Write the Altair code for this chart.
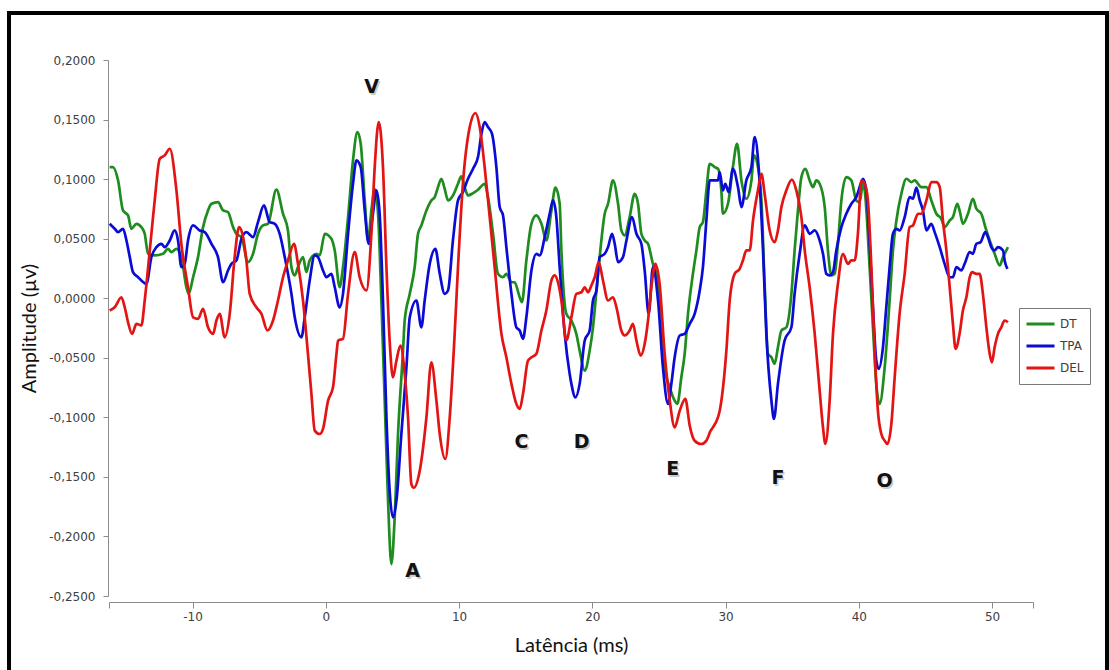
import altair as alt
import pandas as pd

series_names = ["DT", "TPA", "DEL"]
series_colors = ["#1e8c1e", "#0b0bd6", "#e31414"]

dt_lat = [-16.22, -15.97, -15.59, -15.22, -14.84, -14.59, -14.21, -13.84, -13.59, -13.34, -12.84, -12.22,
          -11.84, -11.59, -11.21, -10.84, -10.46, -10.29, -9.96, -9.59, -9.21, -8.84, -8.58, -8.09, -7.71,
          -7.34, -6.96, -6.71, -6.33, -5.84, -5.46, -5.09, -4.71, -4.34, -3.71, -3.21, -2.84, -2.58, -2.33,
          -2.09, -1.71, -1.46, -1.21, -0.71, -0.46, -0.08, 0.42, 0.67, 1.04, 1.29, 1.67, 2.04, 2.37, 2.62,
          2.92, 3.17, 3.42, 3.67, 3.92, 4.17, 4.42, 4.67, 4.92, 5.17, 5.42, 5.79, 5.92, 6.30, 6.67, 6.92,
          7.17, 7.55, 7.92, 8.17, 8.42, 8.67, 8.92, 9.17, 9.54, 9.92, 10.17, 10.42, 10.67, 11.05, 11.42,
          11.92, 12.17, 12.55, 12.92, 13.30, 13.55, 13.93, 14.17, 14.55, 14.72, 15.05, 15.43, 15.80, 16.18,
          16.55, 16.93, 17.23, 17.55, 17.68, 18.05, 18.43, 18.80, 19.05, 19.43, 19.80, 20.05, 20.31, 20.55,
          20.93, 21.18, 21.55, 21.93, 22.18, 22.43, 22.80, 23.18, 23.43, 23.68, 23.93, 24.18, 24.55, 24.81,
          25.18, 25.43, 25.81, 26.18, 26.38, 26.68, 26.93, 27.18, 27.55, 27.81, 28.06, 28.30, 28.56, 28.81,
          29.18, 29.43, 29.68, 29.80, 30.18, 30.55, 30.86, 31.19, 31.56, 31.94, 32.13, 32.43, 32.69, 32.93,
          33.18, 33.44, 33.68, 33.93, 34.19, 34.56, 34.94, 35.18, 35.43, 35.69, 35.99, 36.31, 36.56, 36.81,
          37.06, 37.44, 37.68, 37.94, 38.19, 38.43, 38.69, 39.06, 39.44, 39.81, 40.06, 40.31, 40.44, 40.81,
          41.06, 41.31, 41.56, 41.94, 42.31, 42.56, 42.82, 43.19, 43.57, 43.94, 44.19, 44.69, 45.07, 45.44,
          45.82, 46.19, 46.44, 46.82, 47.06, 47.39, 47.56, 47.81, 48.19, 48.56, 48.82, 49.19, 49.57, 49.82,
          50.19, 50.57, 50.82, 51.07, 51.19]
dt_amp = [0.1101, 0.1101, 0.0989, 0.0737, 0.0695, 0.0583, 0.0625, 0.0597, 0.0541, 0.0373, 0.0359, 0.0373,
          0.0415, 0.0387, 0.0415, 0.0345, 0.0092, 0.0037, 0.0176, 0.0345, 0.0597, 0.0737, 0.0793, 0.0807, 0.0737,
          0.0723, 0.0597, 0.0541, 0.0513, 0.0303, 0.0373, 0.0541, 0.0611, 0.0625, 0.0911, 0.0709, 0.0569, 0.0261, 0.0191,
          0.0261, 0.0345, 0.0219, 0.0317, 0.0373, 0.0359, 0.0541, 0.0499, 0.0401, 0.0092, 0.0261, 0.0681, 0.1157, 0.1395, 0.1297,
          0.0821, 0.0485, 0.0737, 0.0919, 0.0709, -0.0019, -0.0860, -0.1700, -0.2232, -0.1840, -0.1140, -0.0450, -0.0187, 0.0037, 0.0261, 0.0541,
          0.0611, 0.0737, 0.0821, 0.0849, 0.0933, 0.1003, 0.0919, 0.0821, 0.0863, 0.0961, 0.1023, 0.0933, 0.0863, 0.0882, 0.0911,
          0.0961, 0.0849, 0.0541, 0.0205, 0.0176, 0.0205, 0.0134, 0.0134, 0.0008, -0.0034, 0.0317, 0.0625, 0.0695, 0.0625,
          0.0485, 0.0737, 0.0928, 0.0793, 0.0401, -0.0131, -0.0187, -0.0299, -0.0440, -0.0608, -0.0440, -0.0244, 0.0065, 0.0345,
          0.0709, 0.0793, 0.0989, 0.0793, 0.0569, 0.0527, 0.0681, 0.0877, 0.0793, 0.0541, 0.0485, 0.0457, 0.0289, 0.0205,
          -0.0131, -0.0580, -0.0748, -0.0860, -0.0887, -0.0664, -0.0467, -0.0131, 0.0205, 0.0401, 0.0597, 0.0639, 0.0905, 0.1129,
          0.1101, 0.1087, 0.0905, 0.0709, 0.0793, 0.1101, 0.1297, 0.0989, 0.0835, 0.0989, 0.1199, 0.1101, 0.0821, 0.0121,
          -0.0467, -0.0496, -0.0551, -0.0412, -0.0271, -0.0244, 0.0037, 0.0401, 0.0737, 0.1017, 0.1087, 0.0989, 0.0933, 0.0989,
          0.0961, 0.0765, 0.0401, 0.0191, 0.0205, 0.0457, 0.0821, 0.1017, 0.0989, 0.0821, 0.0807, 0.0961, 0.0905, 0.0261,
          -0.0244, -0.0719, -0.0887, -0.0580, -0.0019, 0.0401, 0.0653, 0.0877, 0.1003, 0.0975, 0.0989, 0.0933, 0.0933, 0.0821,
          0.0709, 0.0667, 0.0597, 0.0653, 0.0681, 0.0793, 0.0737, 0.0625, 0.0709, 0.0835, 0.0751, 0.0709, 0.0569, 0.0485,
          0.0373, 0.0275, 0.0345, 0.0401, 0.0429]

tpa_lat = [-16.22, -15.84, -15.59, -15.22, -14.96, -14.71, -14.47, -14.09, -13.84, -13.46, -13.09, -12.71,
           -12.34, -12.09, -11.71, -11.34, -11.09, -10.84, -10.59, -10.34, -9.96, -9.46, -9.09, -8.58, -8.09,
           -7.71, -7.34, -7.08, -6.71, -6.33, -5.96, -5.46, -5.09, -4.64, -4.21, -3.83, -3.46, -3.08, -2.58,
           -2.33, -1.83, -1.58, -1.21, -0.83, -0.59, -0.21, 0.05, 0.42, 0.67, 1.04, 1.29, 1.67, 2.04, 2.30,
           2.62, 2.92, 3.22, 3.54, 3.80, 4.04, 4.29, 4.55, 4.79, 5.04, 5.30, 5.67, 6.05, 6.30, 6.80, 7.17,
           7.42, 7.80, 8.22, 8.55, 8.92, 9.17, 9.54, 9.92, 10.29, 10.67, 11.05, 11.42, 11.68, 11.92, 12.17,
           12.47, 12.80, 13.05, 13.30, 13.55, 13.93, 14.30, 14.55, 14.80, 15.05, 15.43, 15.80, 16.05, 16.43,
           16.80, 17.05, 17.30, 17.55, 17.93, 18.30, 18.43, 18.73, 19.05, 19.43, 19.80, 20.05, 20.31, 20.55,
           20.93, 21.18, 21.48, 21.68, 21.93, 22.30, 22.56, 22.98, 23.31, 23.68, 23.93, 24.23, 24.55, 24.93,
           25.30, 25.68, 25.93, 26.18, 26.56, 26.93, 27.31, 27.68, 28.06, 28.30, 28.56, 28.81, 29.18, 29.43,
           29.56, 29.80, 29.98, 30.23, 30.55, 30.93, 31.19, 31.56, 31.94, 32.18, 32.48, 32.81, 33.06, 33.44,
           33.63, 33.93, 34.43, 34.94, 35.18, 35.56, 35.94, 36.31, 36.69, 37.06, 37.31, 37.56, 37.81, 38.06,
           38.31, 38.69, 39.06, 39.44, 39.81, 40.19, 40.31, 40.56, 40.81, 41.06, 41.31, 41.49, 41.81, 42.06,
           42.31, 42.56, 42.82, 43.06, 43.44, 43.81, 44.06, 44.32, 44.57, 44.81, 45.07, 45.44, 45.69, 46.07,
           46.44, 46.82, 47.06, 47.32, 47.69, 47.94, 48.32, 48.56, 48.82, 49.14, 49.49, 49.69, 49.94, 50.19,
           50.44, 50.82, 50.94, 51.15]
tpa_amp = [0.0625, 0.0583, 0.0555, 0.0583, 0.0485, 0.0345, 0.0219, 0.0176, 0.0149, 0.0121, 0.0345, 0.0429,
           0.0457, 0.0429, 0.0485, 0.0569, 0.0485, 0.0261, 0.0289, 0.0485, 0.0611, 0.0569, 0.0555, 0.0457, 0.0345,
           0.0134, 0.0233, 0.0289, 0.0317, 0.0499, 0.0555, 0.0513, 0.0639, 0.0779, 0.0639, 0.0625, 0.0541, 0.0345, 0.0037,
           -0.0160, -0.0328, -0.0160, 0.0149, 0.0359, 0.0345, 0.0233, 0.0176, 0.0205, 0.0092, -0.0076, 0.0037, 0.0541, 0.0961, 0.1157,
           0.1101, 0.0737, 0.0457, 0.0709, 0.0905, 0.0709, -0.0019, -0.1000, -0.1616, -0.1840, -0.1700, -0.1140, -0.0580, -0.0160, -0.0019, -0.0244,
           -0.0019, 0.0289, 0.0415, 0.0205, 0.0037, 0.0065, 0.0485, 0.0821, 0.0891, 0.1003, 0.1087, 0.1185, 0.1381, 0.1479, 0.1437,
           0.1381, 0.1101, 0.0765, 0.0695, 0.0429, 0.0037, -0.0244, -0.0271, -0.0341, -0.0160, 0.0233, 0.0373, 0.0359, 0.0513,
           0.0709, 0.0821, 0.0681, 0.0261, -0.0299, -0.0635, -0.0719, -0.0832, -0.0719, -0.0355, -0.0271, -0.0019, 0.0065, 0.0345,
           0.0373, 0.0429, 0.0541, 0.0457, 0.0303, 0.0345, 0.0485, 0.0681, 0.0541, 0.0457, 0.0233, -0.0131, 0.0261, -0.0019,
           -0.0580, -0.0887, -0.0719, -0.0496, -0.0313, -0.0299, -0.0215, -0.0131, 0.0065, 0.0261, 0.0653, 0.0989, 0.0989, 0.0989,
           0.1059, 0.0905, 0.0961, 0.0891, 0.1087, 0.0933, 0.0765, 0.0989, 0.1101, 0.1353, 0.1101, 0.0401, -0.0299, -0.0860,
           -0.1013, -0.0719, -0.0355, -0.0244, 0.0037, 0.0373, 0.0611, 0.0541, 0.0569, 0.0485, 0.0373, 0.0205, 0.0191, 0.0219,
           0.0401, 0.0597, 0.0709, 0.0793, 0.0849, 0.0975, 0.1003, 0.0905, 0.0457, -0.0076, -0.0524, -0.0593, -0.0412, -0.0076,
           0.0261, 0.0541, 0.0583, 0.0569, 0.0681, 0.0849, 0.0835, 0.0928, 0.0821, 0.0737, 0.0569, 0.0625, 0.0555, 0.0429,
           0.0289, 0.0176, 0.0176, 0.0261, 0.0233, 0.0289, 0.0387, 0.0373, 0.0457, 0.0471, 0.0555, 0.0513, 0.0429, 0.0401,
           0.0429, 0.0401, 0.0317, 0.0247]

del_lat = [-16.22, -15.84, -15.34, -15.09, -14.84, -14.54, -14.21, -13.84, -13.59, -13.21, -12.84, -12.46,
           -12.09, -11.71, -11.21, -10.84, -10.34, -9.96, -9.59, -9.21, -8.84, -8.46, -8.21, -7.96, -7.59,
           -7.21, -6.84, -6.51, -6.21, -5.96, -5.71, -5.21, -4.83, -4.38, -3.96, -3.59, -3.21, -2.84, -2.39,
           -2.09, -1.71, -1.34, -1.08, -0.83, -0.46, -0.21, 0.17, 0.54, 0.80, 0.92, 1.29, 1.67, 2.17, 2.54,
           3.05, 3.42, 3.67, 3.97, 4.29, 4.55, 4.79, 5.04, 5.30, 5.60, 5.92, 6.17, 6.42, 6.60, 7.05, 7.55,
           7.92, 8.30, 8.55, 8.97, 9.30, 9.67, 9.92, 10.29, 10.80, 11.23, 11.55, 11.92, 12.30, 12.67, 13.18,
           13.55, 13.93, 14.30, 14.55, 14.80, 15.17, 15.43, 15.80, 16.18, 16.55, 16.93, 17.18, 17.42, 17.68,
           18.05, 18.43, 18.80, 19.18, 19.43, 19.67, 19.93, 20.18, 20.48, 20.80, 21.18, 21.55, 21.81, 22.18,
           22.43, 22.80, 23.05, 23.31, 23.63, 23.93, 24.18, 24.43, 24.73, 25.05, 25.43, 25.81, 26.18, 26.56,
           26.98, 27.31, 27.68, 28.18, 28.56, 28.88, 29.05, 29.56, 30.06, 30.31, 30.68, 31.06, 31.30, 31.56,
           31.81, 32.06, 32.43, 32.69, 32.93, 33.31, 33.68, 33.93, 34.19, 34.56, 34.98, 35.31, 35.69, 35.94,
           36.31, 36.69, 37.06, 37.31, 37.49, 37.81, 38.06, 38.43, 38.81, 39.18, 39.44, 39.69, 39.93, 40.19,
           40.44, 40.68, 40.94, 41.19, 41.43, 41.69, 41.94, 42.14, 42.44, 42.69, 43.06, 43.44, 43.81, 44.06,
           44.44, 44.69, 45.07, 45.44, 45.82, 46.07, 46.31, 46.57, 46.82, 47.06, 47.26, 47.56, 47.81, 48.07,
           48.32, 48.49, 48.82, 49.07, 49.31, 49.57, 49.82, 49.99, 50.19, 50.44, 50.69, 50.94, 51.19]
del_amp = [-0.0103, -0.0076, 0.0008, -0.0076, -0.0202, -0.0299, -0.0215, -0.0229, -0.0019, 0.0401, 0.0821, 0.1171,
           0.1199, 0.1255, 0.0905, 0.0457, 0.0092, -0.0160, -0.0173, -0.0089, -0.0244, -0.0299, -0.0187, -0.0131, -0.0328,
           -0.0131, 0.0345, 0.0597, 0.0513, 0.0317, 0.0037, -0.0076, -0.0131, -0.0271, -0.0187, -0.0019, 0.0176, 0.0317, 0.0457,
           0.0289, -0.0019, -0.0467, -0.0803, -0.1112, -0.1140, -0.1097, -0.0860, -0.0748, -0.0467, -0.0355, -0.0341, 0.0037, 0.0387, 0.0176,
           0.0065, 0.0541, 0.1101, 0.1479, 0.1101, 0.0261, -0.0355, -0.0664, -0.0524, -0.0398, -0.0635, -0.1000, -0.1560, -0.1591, -0.1448, -0.1000,
           -0.0538, -0.0860, -0.1140, -0.1350, -0.1000, -0.0299, 0.0261, 0.0961, 0.1437, 0.1555, 0.1437, 0.1101, 0.0681, 0.0261, -0.0299,
           -0.0496, -0.0719, -0.0887, -0.0929, -0.0803, -0.0524, -0.0496, -0.0467, -0.0271, -0.0103, 0.0149, 0.0191, 0.0134, -0.0019,
           -0.0355, -0.0160, 0.0037, 0.0050, 0.0092, 0.0050, 0.0107, 0.0176, 0.0303, 0.0149, -0.0019, 0.0008, -0.0076, -0.0271,
           -0.0313, -0.0271, -0.0215, -0.0355, -0.0482, -0.0383, -0.0187, 0.0092, 0.0289, 0.0121, -0.0467, -0.0860, -0.1084, -0.0944,
           -0.0845, -0.1070, -0.1196, -0.1224, -0.1196, -0.1112, -0.1084, -0.0944, -0.0440, -0.0019, 0.0205, 0.0247, 0.0317, 0.0401,
           0.0401, 0.0653, 0.0905, 0.1045, 0.0877, 0.0569, 0.0471, 0.0569, 0.0765, 0.0905, 0.0995, 0.0905, 0.0681, 0.0401,
           0.0092, -0.0299, -0.0776, -0.1084, -0.1224, -0.0860, -0.0299, 0.0121, 0.0373, 0.0289, 0.0317, 0.0317, 0.0541, 0.0989,
           0.0961, 0.0821, 0.0261, -0.0440, -0.0944, -0.1140, -0.1196, -0.1224, -0.1055, -0.0664, -0.0131, 0.0205, 0.0597, 0.0611,
           0.0709, 0.0709, 0.0821, 0.0975, 0.0975, 0.0933, 0.0653, 0.0401, 0.0092, -0.0215, -0.0425, -0.0299, -0.0103, 0.0008,
           0.0176, 0.0219, 0.0205, 0.0205, 0.0037, -0.0244, -0.0467, -0.0538, -0.0412, -0.0299, -0.0244, -0.0187, -0.0202]

peak_labels = ["V", "A", "C", "D", "E", "F", "O"]
peak_lat = [3.44, 6.52, 14.68, 19.19, 26.03, 33.94, 41.94]
peak_amp = [0.177, -0.2288, -0.1204, -0.1204, -0.1431, -0.1507, -0.1532]

y_ticks = [-0.25, -0.2, -0.15, -0.1, -0.05, 0.0, 0.05, 0.1, 0.15, 0.2]
x_ticks = [-16.27, -10, 0, 10, 20, 30, 40, 50, 53.07]
x_domain = [-16.27, 53.07]
y_domain = [-0.25, 0.2]

rows = []
for name, lats, amps in [("DT", dt_lat, dt_amp), ("TPA", tpa_lat, tpa_amp), ("DEL", del_lat, del_amp)]:
    for i, (a, b) in enumerate(zip(lats, amps)):
        rows.append({"serie": name, "lat": a, "amp": b, "i": i})
df = pd.DataFrame(rows)
peaks = pd.DataFrame({"label": peak_labels, "lat": peak_lat, "amp": peak_amp})

x_scale = alt.Scale(domain=x_domain, nice=False, zero=False)
y_scale = alt.Scale(domain=y_domain, nice=False, zero=False)

lines = alt.Chart(df).mark_line(strokeWidth=2.7, interpolate="monotone").encode(
    x=alt.X("lat:Q", scale=x_scale,
            axis=alt.Axis(values=x_ticks, title="Latência (ms)", grid=False, offset=6,
                          labelExpr="(datum.value < -15 || datum.value > 52) ? '' : ((datum.value < 0 ? '-' : '') + format(abs(datum.value), 'd'))",
                          domainColor="#8c8c8c", tickColor="#8c8c8c", tickSize=6,
                          labelFont="DejaVu Sans", labelFontSize=12, labelColor="#404040", labelPadding=3,
                          titleFont="Lato", titleFontSize=20, titleFontWeight="normal", titleColor="#111111",
                          titlePadding=13)),
    y=alt.Y("amp:Q", scale=y_scale,
            axis=alt.Axis(values=y_ticks, title="Amplitude (µv)", grid=False, offset=1,
                          labelExpr="(datum.value < -0.00001 ? '-' : '') + replace(format(abs(datum.value), '.4f'), '.', ',')",
                          domainColor="#8c8c8c", tickColor="#8c8c8c", tickSize=5,
                          labelFont="DejaVu Sans", labelFontSize=12, labelColor="#404040", labelPadding=8,
                          titleFont="Lato", titleFontSize=20, titleFontWeight="normal", titleColor="#111111",
                          titlePadding=9)),
    color=alt.Color("serie:N", scale=alt.Scale(domain=series_names, range=series_colors),
                    legend=alt.Legend(title=None, orient="none", legendX=910, legendY=248,
                                      strokeColor="#7a7a7a", padding=6, symbolType="stroke",
                                      symbolSize=784, symbolStrokeWidth=3, clipHeight=20, rowPadding=2,
                                      labelFont="DejaVu Sans", labelFontSize=12, labelColor="#404040",
                                      labelOffset=4)),
    order="i:Q",
)

shadow = alt.Chart(peaks).mark_text(font="DejaVu Sans", fontSize=19, fontWeight="bold", color="#999999",
                                    opacity=0.5, dx=1.5, dy=2).encode(
    x=alt.X("lat:Q", scale=x_scale), y=alt.Y("amp:Q", scale=y_scale), text="label:N")
labels = alt.Chart(peaks).mark_text(font="DejaVu Sans", fontSize=19, fontWeight="bold", color="#111111").encode(
    x=alt.X("lat:Q", scale=x_scale), y=alt.Y("amp:Q", scale=y_scale), text="label:N")

frame = alt.Chart(peaks).mark_rect(filled=False, stroke="#000000", strokeWidth=3.5).encode(
    x=alt.value(-100), x2=alt.value(998), y=alt.value(-47), y2=alt.value(625))

chart = alt.layer(lines, shadow, labels, frame).properties(
    width=924, height=536,
    autosize=alt.AutoSizeParams(type="none"),
    padding={"left": 109, "top": 60, "right": 76, "bottom": 74},
    background="white",
).configure_view(stroke=None)

chart.save("out.html", embed_options={"renderer": "svg", "actions": False})
